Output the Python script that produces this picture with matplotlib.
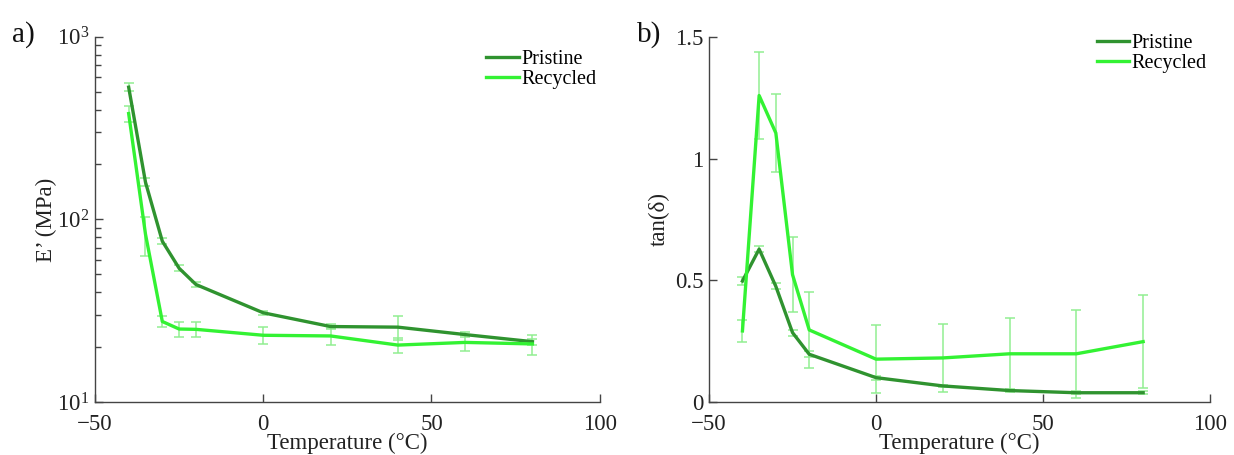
import matplotlib
matplotlib.use("Agg")
import matplotlib.pyplot as plt
import numpy as np

plt.rcParams['font.family'] = ['Liberation Serif', 'DejaVu Serif']
plt.rcParams['mathtext.fontset'] = 'custom'
plt.rcParams['mathtext.rm'] = 'Liberation Serif'
plt.rcParams['mathtext.it'] = 'Liberation Serif:italic'

temps = [-40, -35, -30, -25, -20, 0, 20, 40, 60, 80]

# Storage modulus E' (MPa)
E_pristine = [530, 160, 76, 54, 44, 30.8, 25.9, 25.7, 23.4, 21.4]
E_pristine_err = [28, 8, 3, 2, 1.5, 0.8, 0.8, 3.8, 0.8, 0.8]
E_recycled = [380, 83, 27.6, 25.1, 25.0, 23.2, 23.0, 20.5, 21.2, 20.8]
E_recycled_err = [38, 20, 2, 2.3, 2.3, 2.5, 2.5, 2.0, 2.2, 2.6]

# Loss factor tan(delta)
T_pristine = [0.497, 0.628, 0.475, 0.285, 0.196, 0.100, 0.066, 0.047, 0.038, 0.038]
T_pristine_err = [0.015, 0.012, 0.012, 0.012, 0.012, 0.008, 0.005, 0.005, 0.006, 0.006]
T_recycled = [0.292, 1.259, 1.105, 0.523, 0.296, 0.176, 0.181, 0.198, 0.198, 0.248]
T_recycled_err = [0.046, 0.177, 0.160, 0.155, 0.155, 0.140, 0.138, 0.147, 0.180, 0.190]

labels = ['Pristine', 'Recycled']
c_pristine = '#2f932f'
c_recycled = '#33f233'
c_err = '#90ee90'

fig = plt.figure(figsize=(12.34, 4.55), dpi=100)
ax1 = fig.add_axes([0.077, 0.1165, 0.409, 0.8025])
ax2 = fig.add_axes([0.5746, 0.1165, 0.4059, 0.8025])

def style(ax):
    for s in ['top', 'right']:
        ax.spines[s].set_visible(False)
    for s in ['left', 'bottom']:
        ax.spines[s].set_color('#444444')
        ax.spines[s].set_linewidth(1.0)
    ax.tick_params(which='major', direction='in', length=6, width=1, color='#444444',
                   labelsize=16.5, labelcolor='#222222', pad=4)
    ax.tick_params(which='minor', direction='in', length=4, width=1, color='#444444')
    ax.tick_params(axis='x', pad=9)
    ax.set_xlim(-50, 100)
    ax.set_xticks([-50, 0, 50, 100])
    ax.set_xticklabels(['\u221250', '0', '50', '100'])
    ax.set_xlabel('Temperature (\u00b0C)', fontsize=16.5, color='#222222', labelpad=-2)

# Panel a
ax1.errorbar(temps, E_pristine, yerr=E_pristine_err, fmt='none', ecolor=c_err,
             elinewidth=1.2, capsize=3.5, capthick=1.2, alpha=0.9, zorder=2)
ax1.errorbar(temps, E_recycled, yerr=E_recycled_err, fmt='none', ecolor=c_err,
             elinewidth=1.2, capsize=3.5, capthick=1.2, alpha=0.9, zorder=2)
ax1.plot(temps, E_pristine, color=c_pristine, lw=2.4, label=labels[0], zorder=3)
ax1.plot(temps, E_recycled, color=c_recycled, lw=2.4, label=labels[1], zorder=3)
ax1.set_yscale('log')
ax1.set_ylim(10, 1000)
style(ax1)
ax1.set_ylabel('E\u2019 (MPa)', fontsize=16.5, color='#222222', labelpad=0)
ax1.legend(loc='upper right', bbox_to_anchor=(1.01, 0.985), frameon=False, fontsize=14.5,
           handlelength=1.6, handletextpad=0.15, labelspacing=0.0, borderaxespad=0.0)
fig.text(0.010, 0.925, 'a)', fontsize=21, color='#111111', va='center')

# Panel b
ax2.errorbar(temps, T_pristine, yerr=T_pristine_err, fmt='none', ecolor=c_err,
             elinewidth=1.2, capsize=3.5, capthick=1.2, alpha=0.9, zorder=2)
ax2.errorbar(temps, T_recycled, yerr=T_recycled_err, fmt='none', ecolor=c_err,
             elinewidth=1.2, capsize=3.5, capthick=1.2, alpha=0.9, zorder=2)
ax2.plot(temps, T_pristine, color=c_pristine, lw=2.4, label=labels[0], zorder=3)
ax2.plot(temps, T_recycled, color=c_recycled, lw=2.4, label=labels[1], zorder=3)
ax2.set_ylim(0, 1.5)
ax2.set_yticks([0, 0.5, 1, 1.5])
ax2.set_yticklabels(['0', '0.5', '1', '1.5'])
style(ax2)
ax2.set_ylabel('tan(\u03b4)', fontsize=16.5, color='#222222', labelpad=4)
ax2.legend(loc='upper right', bbox_to_anchor=(1.01, 1.03), frameon=False, fontsize=14.5,
           handlelength=1.6, handletextpad=0.15, labelspacing=0.05, borderaxespad=0.0)
fig.text(0.516, 0.925, 'b)', fontsize=21, color='#111111', va='center')

fig.savefig('out.png', dpi=100)
